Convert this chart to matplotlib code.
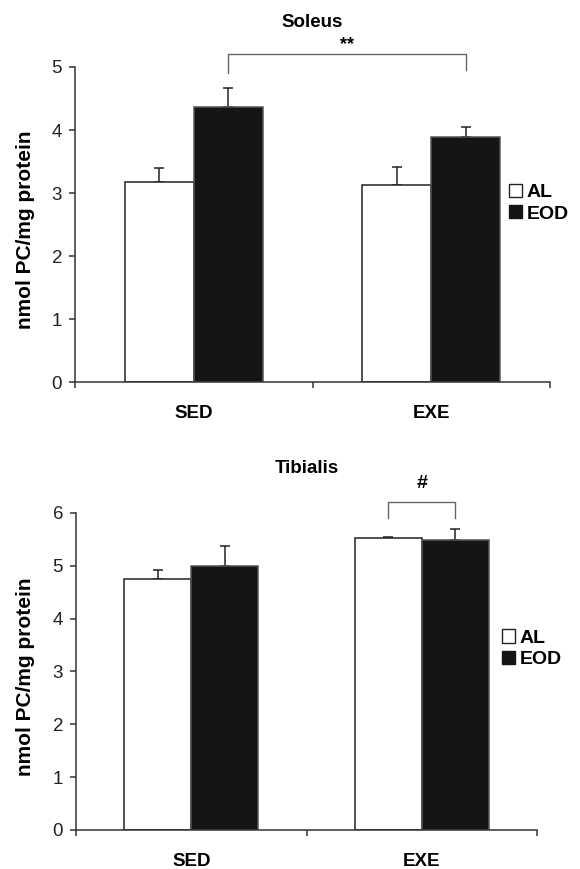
import matplotlib
matplotlib.use("Agg")
import matplotlib.pyplot as plt
from matplotlib.patches import Patch
import numpy as np

plt.rcParams['font.family'] = ['Liberation Sans', 'DejaVu Sans']

# data
groups = ['SED', 'EXE']
series = ['AL', 'EOD']

soleus_al = [3.18, 3.13]
soleus_al_err = [0.21, 0.28]
soleus_eod = [4.37, 3.89]
soleus_eod_err = [0.29, 0.15]

tibialis_al = [4.75, 5.52]
tibialis_al_err = [0.17, 0.02]
tibialis_eod = [5.00, 5.49]
tibialis_eod_err = [0.37, 0.20]

fig = plt.figure(figsize=(5.8, 8.69), dpi=100)
ax1 = fig.add_axes([0.1293, 0.5604, 0.819, 0.3625])
ax2 = fig.add_axes([0.1310, 0.0449, 0.795, 0.3648])

width = 0.29
x = np.arange(len(groups))
edge = '#222222'
dark = '#151515'


def draw_panel(ax, al, al_err, eod, eod_err, ymax, title, leg_xy, ylab_x):
    ax.bar(x - width / 2, al, width, color='white', edgecolor=edge, linewidth=1.1, zorder=2)
    ax.bar(x + width / 2, eod, width, color=dark, edgecolor='#555555', linewidth=1.1, zorder=2)
    ax.errorbar(x - width / 2, al, yerr=[np.zeros(len(al)), al_err], fmt='none',
                ecolor=edge, elinewidth=1.1, capsize=3.3, capthick=1.1, zorder=1)
    ax.errorbar(x + width / 2, eod, yerr=[np.zeros(len(eod)), eod_err], fmt='none',
                ecolor=edge, elinewidth=1.1, capsize=3.3, capthick=1.1, zorder=1)
    ax.set_xlim(-0.5, 1.5)
    ax.set_ylim(0, ymax)
    ax.set_yticks(range(0, ymax + 1))
    ax.set_xticks([-0.5, 0.5, 1.5])
    ax.set_xticklabels([])
    ax.set_xticks(x, minor=True)
    ax.set_xticklabels(groups, minor=True, fontweight='bold', fontsize=13.5)
    ax.tick_params(axis='x', which='minor', length=0, pad=16.5)
    ax.tick_params(axis='x', which='major', length=4.3, width=1.1, color='#333333')
    ax.tick_params(axis='y', length=4.3, width=1.1, color='#333333', labelsize=13.5,
                   labelcolor='#222222', pad=5)
    for s in ['top', 'right']:
        ax.spines[s].set_visible(False)
    for s in ['left', 'bottom']:
        ax.spines[s].set_color('#333333')
        ax.spines[s].set_linewidth(1.1)
    ax.set_ylabel('nmol PC/mg protein', fontweight='bold', fontsize=15)
    ax.yaxis.set_label_coords(ylab_x, 0.483)
    ax.set_title(title, fontweight='bold', fontsize=13.5, pad=0, y=1.127)
    handles = [Patch(facecolor='white', edgecolor='#222222', linewidth=1.0),
               Patch(facecolor=dark, edgecolor=dark)]
    ax.legend(handles, series, loc='center left', bbox_to_anchor=leg_xy, frameon=False,
              prop={'weight': 'bold', 'size': 14}, handlelength=0.66, handleheight=0.66,
              handletextpad=0.25, labelspacing=0.22, borderpad=0, borderaxespad=0)


draw_panel(ax1, soleus_al, soleus_al_err, soleus_eod, soleus_eod_err, 5, 'Soleus',
           (0.914, 0.568), -0.084)
draw_panel(ax2, tibialis_al, tibialis_al_err, tibialis_eod, tibialis_eod_err, 6, 'Tibialis',
           (0.924, 0.571), -0.089)

# significance brackets
bx1 = [x[0] + width / 2, x[0] + width / 2, x[1] + width / 2, x[1] + width / 2]
ax1.plot(bx1, [4.91, 5.20, 5.20, 4.95], color='#666666', lw=1.0, clip_on=False)
ax1.text(np.mean(bx1[1:3]), 5.36, '**', ha='center', va='center', fontsize=13, fontweight='bold')

bx2 = [x[1] - width / 2, x[1] - width / 2, x[1] + width / 2, x[1] + width / 2]
ax2.plot(bx2, [5.91, 6.21, 6.21, 5.91], color='#666666', lw=1.0, clip_on=False)
ax2.text(np.mean(bx2[1:3]), 6.55, '#', ha='center', va='center', fontsize=14, fontweight='bold')

fig.savefig('out.png', dpi=100)
